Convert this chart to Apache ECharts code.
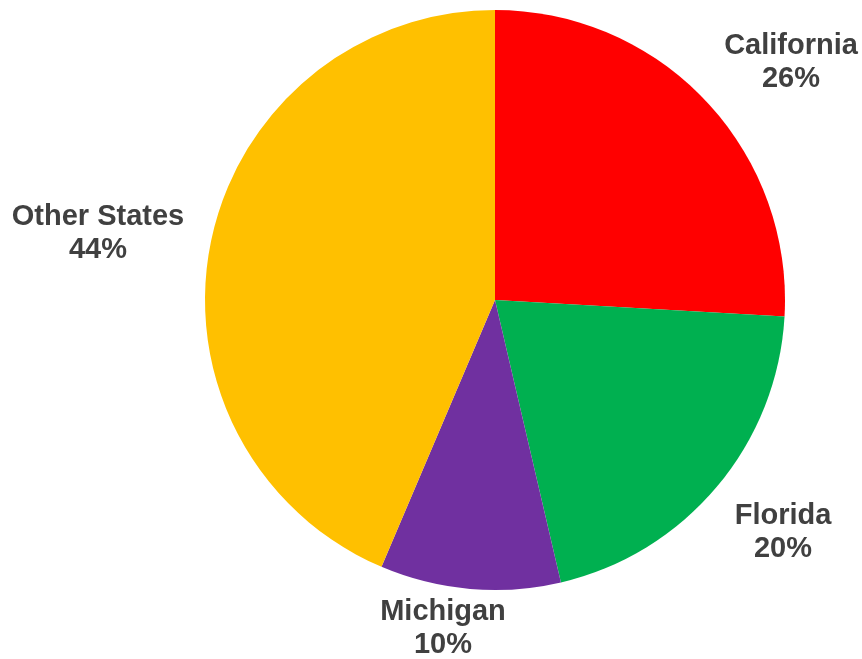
<!DOCTYPE html>
<html>
<head>
<meta charset="utf-8">
<script src="https://cdn.jsdelivr.net/npm/echarts@6/dist/echarts.min.js"></script>
<style>
  html, body { margin: 0; padding: 0; background: #fff; }
  #chart { width: 862px; height: 659px; }
</style>
</head>
<body>
<div id="chart"></div>
<script>
// data (shares, labels show rounded %)
var states = ['California', 'Florida', 'Michigan', 'Other States'];
var shares = [25.9, 20.45, 10.05, 43.6];
var colors = ['#FF0000', '#00B050', '#7030A0', '#FFC000'];

// where each label sits (page pixels, label centre)
var labelPos = [[791, 62], [783, 532], [443, 628], [98, 233]];

var myChart = echarts.init(document.getElementById('chart'));

var pieData = [];
for (var i = 0; i < states.length; i++) {
	pieData.push({ name: states[i], value: shares[i], itemStyle: { color: colors[i] } });
}

var option = {
	animation: false,
	series: [
		{
			type: 'pie',
			center: [495, 300],
			radius: [0, 290],
			startAngle: 90,
			clockwise: true,
			data: pieData,
			itemStyle: { borderWidth: 0 },
			label: {
				show: true,
				position: 'outside',
				formatter: function (p) { return p.name + '\n' + Math.round(p.percent) + '%'; },
				fontFamily: 'Liberation Sans, Arial, sans-serif',
				fontWeight: 'bold',
				fontSize: 29,
				lineHeight: 33,
				color: '#404040',
				align: 'center',
				overflow: 'none'
			},
			labelLine: { show: false },
			labelLayout: function (params) {
				var p = labelPos[params.dataIndex];
				return { x: p[0], y: p[1], align: 'center', verticalAlign: 'middle' };
			}
		}
	]
};

myChart.setOption(option);
</script>
</body>
</html>
